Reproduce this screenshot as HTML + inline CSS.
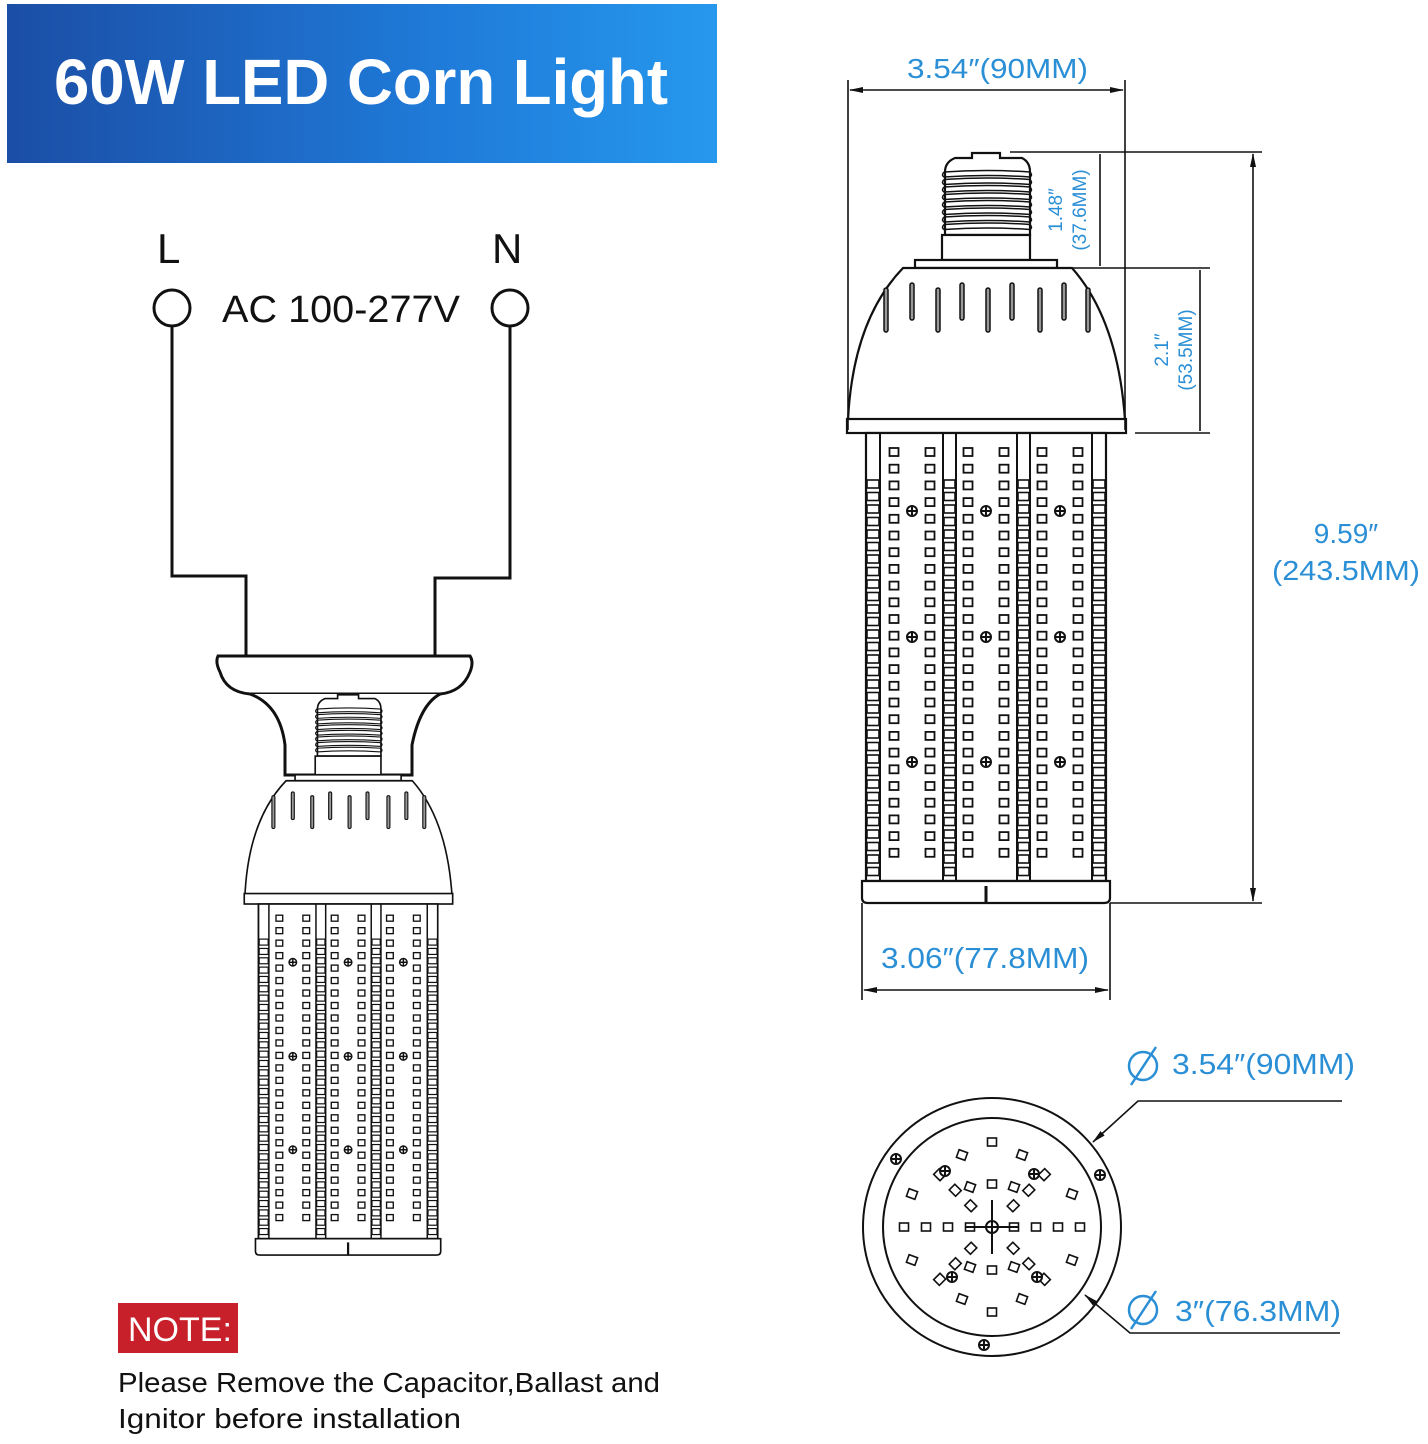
<!DOCTYPE html>
<html><head><meta charset="utf-8"><style>
html,body{margin:0;padding:0;background:#fff;}
svg{display:block;}
text{font-family:"Liberation Sans","DejaVu Sans",sans-serif;}
</style></head><body>
<svg id="s" width="1428" height="1444" viewBox="0 0 1428 1444" xmlns="http://www.w3.org/2000/svg">
<defs>
<linearGradient id="hg" x1="0" y1="0" x2="1" y2="0">
<stop offset="0" stop-color="#1b4ea6"/><stop offset="0.6" stop-color="#1f7ad8"/><stop offset="1" stop-color="#2698ee"/>
</linearGradient>
<marker id="ar" markerWidth="14" markerHeight="8" refX="13" refY="4" orient="auto-start-reverse" markerUnits="userSpaceOnUse">
<path d="M0,1 L14,4 L0,7 Z" fill="#111"/></marker>
</defs>
<rect x="7" y="4" width="710" height="159" fill="url(#hg)"/>
<text x="54" y="104" font-size="64" font-weight="bold" fill="#fff" textLength="614" lengthAdjust="spacingAndGlyphs">60W LED Corn Light</text>
<text x="157" y="263" font-size="42" fill="#111">L</text>
<text x="492" y="263" font-size="42" fill="#111">N</text>
<text x="222" y="322" font-size="38" fill="#111" textLength="238" lengthAdjust="spacingAndGlyphs">AC 100-277V</text>
<g fill="none" stroke="#111" stroke-width="3">
<circle cx="172" cy="308" r="18"/><circle cx="510" cy="308" r="18"/>
<polyline points="172,326 172,576 246,576 246,656"/>
<polyline points="510,326 510,578 435,578 435,656"/>
</g>
<g id="socket" fill="#fff" stroke="#111" stroke-width="3">
<path d="M218,656 L470,656 Q474,662 470,672 Q462,692 440,694 L250,694 Q226,692 220,672 Q215,662 218,656 Z"/>
<path d="M250,694 Q280,705 285,745 L285,775 L412,775 L412,745 Q420,705 440,694"/>
</g>
<g id="leftbulb"></g>
<g id="right"></g>
<g stroke="#111" stroke-width="1.6" fill="none">
<line x1="848" y1="80" x2="848" y2="430"/><line x1="1125" y1="80" x2="1125" y2="430"/>
<line x1="850" y1="90" x2="1123" y2="90" marker-end="url(#ar)" marker-start="url(#ar)"/>
<line x1="1010" y1="152" x2="1262" y2="152"/><line x1="1060" y1="268" x2="1210" y2="268"/>
<line x1="1135" y1="433" x2="1210" y2="433"/><line x1="1110" y1="903" x2="1262" y2="903"/>
<line x1="1100" y1="154" x2="1100" y2="266"/>
<line x1="1200" y1="270" x2="1200" y2="431"/>
<line x1="1253" y1="154" x2="1253" y2="901" marker-end="url(#ar)" marker-start="url(#ar)"/>
<line x1="862" y1="903" x2="862" y2="1000"/><line x1="1110" y1="903" x2="1110" y2="1000"/>
<line x1="864" y1="990" x2="1108" y2="990" marker-end="url(#ar)" marker-start="url(#ar)"/>
<polyline points="1342,1101 1138,1101 1093,1142" marker-end="url(#ar)"/>
<polyline points="1340,1333 1130,1333 1085,1295" marker-end="url(#ar)"/>
</g>
<g fill="#2b8fd6">
<text x="907" y="78" font-size="28" textLength="181" lengthAdjust="spacingAndGlyphs">3.54″(90MM)</text>
<text x="881" y="968" font-size="29" textLength="208" lengthAdjust="spacingAndGlyphs">3.06″(77.8MM)</text>
<text x="1346" y="543" font-size="28" text-anchor="middle">9.59″</text>
<text x="1272" y="580" font-size="28" textLength="148" lengthAdjust="spacingAndGlyphs">(243.5MM)</text>
<text transform="translate(1062,210) rotate(-90)" font-size="19" text-anchor="middle">1.48″</text>
<text transform="translate(1086,210) rotate(-90)" font-size="19" text-anchor="middle">(37.6MM)</text>
<text transform="translate(1168,350) rotate(-90)" font-size="19" text-anchor="middle">2.1″</text>
<text transform="translate(1192,350) rotate(-90)" font-size="19" text-anchor="middle">(53.5MM)</text>
<text x="1172" y="1074" font-size="29" textLength="183" lengthAdjust="spacingAndGlyphs">3.54″(90MM)</text>
<text x="1175" y="1321" font-size="29" textLength="166" lengthAdjust="spacingAndGlyphs">3″(76.3MM)</text>
</g>
<g fill="none" stroke="#2b8fd6" stroke-width="2.5">
<circle cx="1143" cy="1066" r="14"/><line x1="1131" y1="1085" x2="1156" y2="1047"/>
<circle cx="1143" cy="1310" r="14"/><line x1="1131" y1="1329" x2="1156" y2="1291"/>
</g>
<g id="circ" fill="none" stroke="#111" stroke-width="2">
<circle cx="992" cy="1227" r="129"/><circle cx="992" cy="1227" r="109"/>
<circle cx="992" cy="1227" r="6"/>
<line x1="966" y1="1227" x2="1018" y2="1227"/><line x1="992" y1="1200" x2="992" y2="1254"/>
</g>
<rect x="118" y="1303" width="120" height="50" fill="#c8202a"/>
<text x="128" y="1341" font-size="34" fill="#fff">NOTE:</text>
<text x="118" y="1392" font-size="28" fill="#111" textLength="542" lengthAdjust="spacingAndGlyphs">Please Remove the Capacitor,Ballast and</text>
<text x="118" y="1428" font-size="28" fill="#111" textLength="343" lengthAdjust="spacingAndGlyphs">Ignitor before installation</text>
</svg>
<script>
var NS="http://www.w3.org/2000/svg";
function el(p,t,a){var e=document.createElementNS(NS,t);for(var k in a)e.setAttribute(k,a[k]);p.appendChild(e);return e;}
function screw(g,x,y,r){el(g,"circle",{cx:x,cy:y,r:r,fill:"#fff",stroke:"#111","stroke-width":2});
el(g,"line",{x1:x-r,y1:y,x2:x+r,y2:y,stroke:"#111","stroke-width":2});el(g,"line",{x1:x,y1:y-r,x2:x,y2:y+r,stroke:"#111","stroke-width":2});}
function bulb(g){
 var s={fill:"#fff",stroke:"#111","stroke-width":2.2};
 el(g,"path",Object.assign({d:"M972,153 L1000,153 L1000,158 L1022,158 Q1030,162 1030,172 L1030,235 L945,235 L945,172 Q945,162 955,158 L972,158 Z"},s));
 for(var i=0;i<8;i++){var y=172+i*7.5;el(g,"path",{d:"M944,"+y+" Q987,"+(y-3)+" 1030,"+y+" Q1033,"+(y+3)+" 1030,"+(y+5)+" Q987,"+(y+2)+" 944,"+(y+5)+" Q941,"+(y+3)+" 944,"+y,fill:"none",stroke:"#111","stroke-width":1.5});}
 el(g,"rect",Object.assign({x:942,y:235,width:88,height:25},s));
 el(g,"rect",Object.assign({x:915,y:260,width:142,height:8},s));
 el(g,"path",Object.assign({d:"M903,268 L1072,268 Q1118,320 1125,420 L848,420 Q853,320 903,268 Z"},s));
 el(g,"rect",Object.assign({x:847,y:419,width:279,height:14},s));
 var sl=[886,912,938,962,988,1012,1040,1064,1088];
 sl.forEach(function(x,i){var top=i%2?283:288,bot=i%2?320:332;el(g,"rect",{x:x-2,y:top,width:4,height:bot-top,rx:2,fill:"#999",stroke:"#111","stroke-width":1.5});});
 el(g,"rect",Object.assign({x:866,y:433,width:240,height:448},s));
 [[866,880],[943,956],[1017,1030],[1092,1106]].forEach(function(d){
  el(g,"line",{x1:d[0],y1:433,x2:d[0],y2:881,stroke:"#111","stroke-width":2});
  el(g,"line",{x1:d[1],y1:433,x2:d[1],y2:881,stroke:"#111","stroke-width":2});
  for(var y=480;y<880;y+=12.5){el(g,"rect",{x:d[0]+1,y:y,width:d[1]-d[0]-2,height:8,fill:"none",stroke:"#111","stroke-width":1.6});}
 });
 [894,930,968,1004,1042,1078].forEach(function(x){for(var r=0;r<25;r++){el(g,"rect",{x:x-4.5,y:448+r*16.7,width:9,height:8,fill:"none",stroke:"#111","stroke-width":1.8});}});
 [511,637,762].forEach(function(y){[912,986,1060].forEach(function(x){screw(g,x,y,5);});});
 el(g,"path",Object.assign({d:"M862,881 L1110,881 L1110,898 Q1110,903 1104,903 L868,903 Q862,903 862,898 Z"},s));
 el(g,"line",{x1:986,y1:886,x2:986,y2:903,stroke:"#111","stroke-width":3});
}
bulb(document.getElementById("right"));
var lb=document.getElementById("leftbulb");
var sc=0.747;lb.setAttribute("transform","translate("+(245-848*sc)+","+(780-267*sc)+") scale("+sc+")");
bulb(lb);
var c=document.getElementById("circ"),cx=992,cy=1227;
function sq(x,y,rot){el(c,"rect",{x:-4.5,y:-4,width:9,height:8,transform:"translate("+x+","+y+") rotate("+rot+")","stroke-width":1.6});}
[-88,-66,-44,-22,22,44,66,88].forEach(function(d){sq(cx+d,cy,0);});
sq(cx,cy-85,0);sq(cx,cy-43,0);sq(cx,cy+43,0);sq(cx,cy+85,0);
[30,52,74].forEach(function(r){[45,135,225,315].forEach(function(a){var t=a*Math.PI/180;sq(cx+r*Math.cos(t),cy+r*Math.sin(t),a);});});
[[-80,-33],[80,-33],[-80,33],[80,33],[-30,-72],[30,-72],[-30,72],[30,72],[-22,-40],[22,-40],[-22,40],[22,40]].forEach(function(p){sq(cx+p[0],cy+p[1],20);});
[[-47,-56],[42,-53],[-40,50],[45,50]].forEach(function(p){screw(c,cx+p[0],cy+p[1],5);});
[[-96,-68],[108,-52],[-8,118]].forEach(function(p){screw(c,cx+p[0],cy+p[1],5);});
</script>
</body></html>
